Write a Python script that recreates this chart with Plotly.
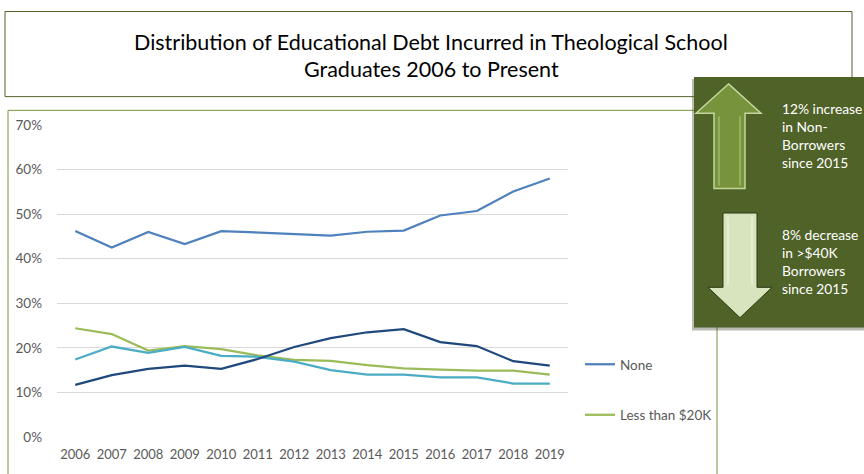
import plotly.graph_objects as go

years = [str(y) for y in range(2006, 2020)]
none_vals = [46.2, 42.5, 46.0, 43.3, 46.2, 45.9, 45.5, 45.2, 46.05, 46.3, 49.7, 50.7, 55.1, 58.0]
lt20_vals = [24.4, 23.1, 19.4, 20.4, 19.7, 18.3, 17.3, 17.1, 16.1, 15.4, 15.1, 14.9, 14.9, 14.0]
mid_vals = [17.4, 20.3, 18.9, 20.2, 18.2, 18.0, 16.9, 15.0, 14.0, 14.0, 13.4, 13.4, 12.0, 12.0]
gt40_vals = [11.7, 13.9, 15.3, 16.0, 15.3, 17.5, 20.2, 22.2, 23.5, 24.2, 21.3, 20.4, 17.0, 16.0]
series_names = ["None", "Less than $20K", "$20K to $40K", "More than $40K"]
series_colors = ["#4F81BD", "#9BBB59", "#4BACC6", "#1F497D"]
series_vals = [none_vals, lt20_vals, mid_vals, gt40_vals]
series_in_legend = [True, True, False, False]

title_lines = ["Distribution of Educational Debt Incurred in Theological School",
               "Graduates 2006 to Present"]
callout_up = "12% increase<br>in Non-<br>Borrowers<br>since 2015"
callout_down = "8% decrease<br>in >$40K<br>Borrowers<br>since 2015"

W, H = 864, 474
L, R, T, B = 57, 568, 125, 444  # plot area in pixels

def X(px):
    return (px - L) / (R - L)

def Y(py):
    return (B - py) / (B - T)

FONT = "Lato"

fig = go.Figure()
for name, color, vals, show in zip(series_names, series_colors, series_vals, series_in_legend):
    fig.add_trace(go.Scatter(
        x=years, y=[v / 100 for v in vals], mode="lines", name=name,
        line=dict(color=color, width=2.25), showlegend=show, legendgroup=name,
    ))

shapes = []
# title box
shapes.append(dict(type="rect", xref="paper", yref="paper",
                   x0=X(5), x1=X(852), y0=Y(9), y1=Y(96),
                   line=dict(color="#4F6228", width=1), fillcolor="rgba(0,0,0,0)", layer="above"))
# chart box
shapes.append(dict(type="rect", xref="paper", yref="paper",
                   x0=X(8), x1=X(717), y0=Y(110), y1=Y(490),
                   line=dict(color="#77933C", width=1), fillcolor="rgba(0,0,0,0)", layer="above"))
# green box shadow
shapes.append(dict(type="rect", xref="paper", yref="paper",
                   x0=X(692), x1=X(880), y0=Y(78), y1=Y(335),
                   line=dict(width=0), fillcolor="rgba(60,60,40,0.35)", layer="above"))
# green box
shapes.append(dict(type="rect", xref="paper", yref="paper",
                   x0=X(694), x1=X(880), y0=Y(76), y1=Y(332),
                   line=dict(width=0), fillcolor="#4F6228", layer="above"))

def path(points):
    return "M" + " L".join(f"{X(a):.5f},{Y(b):.5f}" for a, b in points) + " Z"

# up arrow
up = [(728.5, 83), (761, 113), (745, 113), (745, 190), (714, 190), (714, 113), (696, 113)]
shapes.append(dict(type="path", xref="paper", yref="paper", path=path(up),
                   fillcolor="#77933C", line=dict(color="#C3D69B", width=1.5), layer="above"))
for xa in (719, 740):
    shapes.append(dict(type="line", xref="paper", yref="paper",
                       x0=X(xa), x1=X(xa), y0=Y(116), y1=Y(187),
                       line=dict(color="#A9C17A", width=1.2), layer="above"))
# down arrow
down = [(723, 215), (757, 215), (757, 291), (772, 291), (740, 322), (708, 291), (723, 291)]
shapes.append(dict(type="path", xref="paper", yref="paper", path=path(down),
                   fillcolor="#D7E4BD", line=dict(color="#2F3A18", width=1), layer="above"))
for xa in (728, 752):
    shapes.append(dict(type="line", xref="paper", yref="paper",
                       x0=X(xa), x1=X(xa), y0=Y(219), y1=Y(289),
                       line=dict(color="#EEF4E2", width=1.2), layer="above"))

annotations = [
    dict(text=title_lines[0], x=X(431), y=Y(40), xref="paper", yref="paper",
         showarrow=False, xanchor="center", yanchor="middle",
         font=dict(family=FONT, size=21.5, color="#000000")),
    dict(text=title_lines[1], x=X(431), y=Y(68), xref="paper", yref="paper",
         showarrow=False, xanchor="center", yanchor="middle",
         font=dict(family=FONT, size=21.5, color="#000000")),
    dict(text=callout_up, x=X(780), y=Y(136), xref="paper", yref="paper",
         showarrow=False, xanchor="left", yanchor="middle", align="left",
         font=dict(family=FONT, size=13.8, color="#FFFFFF")),
    dict(text=callout_down, x=X(780), y=Y(264.5), xref="paper", yref="paper",
         showarrow=False, xanchor="left", yanchor="middle", align="left",
         font=dict(family=FONT, size=13.8, color="#FFFFFF")),
]

fig.update_layout(
    width=W, height=H,
    margin=dict(l=L, r=W - R, t=T, b=H - B, pad=0),
    paper_bgcolor="#FFFFFF", plot_bgcolor="#FFFFFF",
    font=dict(family=FONT, size=13, color="#595959"),
    showlegend=True,
    legend=dict(x=X(580), y=Y(354), xanchor="left", yanchor="top",
                tracegroupgap=30, bgcolor="rgba(0,0,0,0)",
                font=dict(family=FONT, size=13.5, color="#595959"),
                itemwidth=30),
    shapes=shapes,
    annotations=annotations,
    xaxis=dict(type="category", range=[-0.5, 13.5], showgrid=False, zeroline=False,
               showline=False, ticks="", tickfont=dict(size=13, color="#595959"),
               ticklabelstandoff=8, fixedrange=True),
    yaxis=dict(range=[0, 0.7], dtick=0.1, tickformat=".0%", showgrid=True,
               gridcolor="#D9D9D9", gridwidth=1, zeroline=False, showline=False,
               ticks="", tickfont=dict(size=13.5, color="#595959"), ticklabelstandoff=14,
               fixedrange=True),
)

fig.write_html("out.html")
